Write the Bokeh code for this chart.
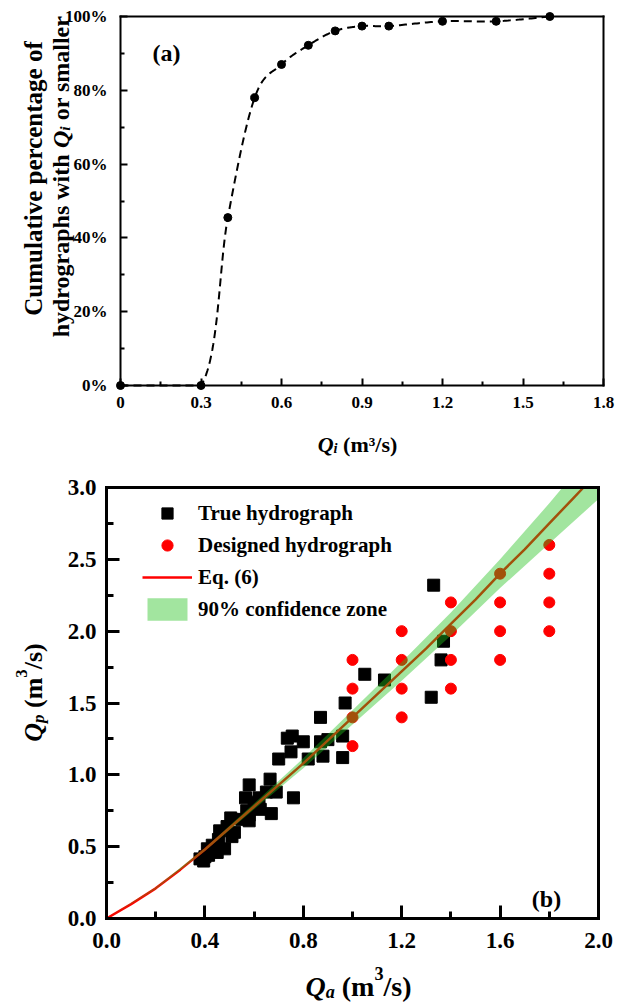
import numpy as np
from bokeh.plotting import figure
from bokeh.layouts import column
from bokeh.models import FixedTicker, Label, Legend, LegendItem, LinearAxis
from bokeh.embed import file_html
from bokeh.resources import INLINE

FONT = "Liberation Serif"

# ---------------- panel (a): cumulative share of hydrographs ----------------
qi_values = [0, 0.3, 0.4, 0.5, 0.6, 0.7, 0.8, 0.9, 1.0, 1.2, 1.4, 1.6]
cumulative_pct = [0, 0, 45.5, 78.0, 87.0, 92.2, 96.1, 97.4, 97.4, 98.7, 98.7, 100]
qi_ticks = [0, 0.3, 0.6, 0.9, 1.2, 1.5, 1.8]
qi_minor = [0.15, 0.45, 0.75, 1.05, 1.35, 1.65]
qi_tick_labels = ["0", "0.3", "0.6", "0.9", "1.2", "1.5", "1.8"]
pct_ticks = [0, 20, 40, 60, 80, 100]
pct_minor = [10, 30, 50, 70, 90]
pct_tick_labels = ["0%", "20%", "40%", "60%", "80%", "100%"]

# ---------------- panel (b): peak discharge vs. average discharge ----------------
true_qa = [1.33, 1.37, 1.36, 1.32, 1.05, 1.13, 0.97, 0.87, 0.96, 0.90,
           0.87, 0.80, 0.755, 0.735, 0.75, 0.88, 0.96, 0.82, 0.70, 0.665,
           0.58, 0.69, 0.65, 0.76, 0.565, 0.60, 0.67, 0.625, 0.57, 0.58,
           0.55, 0.505, 0.49, 0.51, 0.46, 0.455, 0.48, 0.43, 0.41, 0.45,
           0.415, 0.38, 0.395, 0.58, 0.425, 0.40, 0.52, 0.62]
true_qp = [2.32, 1.93, 1.80, 1.54, 1.70, 1.66, 1.50, 1.40, 1.27, 1.245,
           1.23, 1.23, 1.27, 1.255, 1.16, 1.13, 1.12, 1.11, 1.11, 0.97,
           0.93, 0.88, 0.88, 0.84, 0.84, 0.81, 0.73, 0.76, 0.75, 0.68,
           0.69, 0.70, 0.64, 0.57, 0.61, 0.55, 0.485, 0.51, 0.485, 0.46,
           0.44, 0.415, 0.40, 0.72, 0.47, 0.43, 0.60, 0.84]
design_qa = [1.0, 1.0, 1.0, 1.0, 1.2, 1.2, 1.2, 1.2, 1.4, 1.4,
             1.4, 1.4, 1.6, 1.6, 1.6, 1.6, 1.8, 1.8, 1.8, 1.8]
design_qp = [1.2, 1.4, 1.6, 1.8, 1.4, 1.6, 1.8, 2.0, 1.6, 1.8,
             2.0, 2.2, 1.8, 2.0, 2.2, 2.4, 2.0, 2.2, 2.4, 2.6]
eq6_qa = [0, 0.1, 0.2, 0.3, 0.4, 0.5, 0.6, 0.7, 0.8, 0.9, 1.0,
          1.1, 1.2, 1.3, 1.4, 1.5, 1.6, 1.7, 1.8, 1.9, 2.0]
eq6_qp = [0, 0.10, 0.21, 0.34, 0.48, 0.63, 0.78, 0.93, 1.08, 1.24, 1.40,
          1.56, 1.72, 1.88, 2.05, 2.22, 2.40, 2.57, 2.75, 2.93, 3.11]
band_qa = [0, 0.2, 0.4, 0.6, 0.8, 1.0, 1.2, 1.4, 1.6, 1.8, 2.0]
band_lo = [0, 0.205, 0.47, 0.76, 1.045, 1.35, 1.655, 1.97, 2.30, 2.61, 2.92]
band_hi = [0, 0.215, 0.49, 0.80, 1.115, 1.45, 1.785, 2.13, 2.50, 2.89, 3.30]
qa_ticks = [0, 0.4, 0.8, 1.2, 1.6, 2.0]
qa_minor = [0.2, 0.6, 1.0, 1.4, 1.8]
qa_tick_labels = ["0.0", "0.4", "0.8", "1.2", "1.6", "2.0"]
qp_ticks = [0, 0.5, 1.0, 1.5, 2.0, 2.5, 3.0]
qp_minor = [0.25, 0.75, 1.25, 1.75, 2.25, 2.75]
qp_tick_labels = ["0.0", "0.5", "1.0", "1.5", "2.0", "2.5", "3.0"]

# advance widths (1/1000 em) of the serif bold faces, for laying out mixed-style titles
BOLD_W = {' ': 250, '%': 1000, '(': 333, ')': 333, '.': 250, '/': 278, '\u00b3': 300,
          '3': 500, 'C': 722, 'Q': 778, 'a': 500, 'b': 556, 'c': 444, 'd': 556,
          'e': 444, 'f': 333, 'g': 500, 'h': 556, 'i': 278, 'l': 278, 'm': 833,
          'n': 556, 'o': 500, 'p': 556, 'r': 444, 's': 389, 't': 333, 'u': 556,
          'v': 500, 'w': 722, 'y': 500}
BOLD_ITALIC_W = {'Q': 722, 'i': 278, 'p': 500, 'a': 500}


def run_width(text, style):
    table = BOLD_ITALIC_W if style == "bold italic" else BOLD_W
    return sum(table[c] for c in text) / 1000.0


class PixelMap:
    """Maps page pixels of a panel onto its data coordinates (frame fills the canvas)."""

    def __init__(self, xlo, xhi, ylo, yhi, left, right, top, bottom, width, height):
        self.kx = (xhi - xlo) / (right - left)
        self.ky = (yhi - ylo) / (bottom - top)
        self.x0 = xlo - left * self.kx          # data x at canvas left edge
        self.y0 = ylo + bottom * self.ky        # data y at canvas top edge
        self.x_range = (self.x0, self.x0 + width * self.kx)
        self.y_range = (self.y0 - height * self.ky, self.y0)

    def x(self, px):
        return self.x0 + px * self.kx

    def y(self, py):
        return self.y0 - py * self.ky


def rich_text(p, runs, px, py, size, m, vertical=False):
    """Place styled text runs from a baseline start point given in canvas pixels.
    Each run: (text, font style, size factor, baseline shift in em, positive = raised)."""
    adv = 0.0
    for text, style, scale, shift in runs:
        fs = size * scale
        lead = (len(text) - len(text.lstrip(" "))) * BOLD_W[' '] / 1000.0 * fs
        pos = adv + lead
        if vertical:
            lx, ly, angle = px - shift * size, py - pos, np.pi / 2
        else:
            lx, ly, angle = px + pos, py - shift * size, 0
        p.add_layout(Label(x=m.x(lx), y=m.y(ly), text=text.strip(), angle=angle,
                           text_font=FONT, text_font_style=style,
                           text_font_size=f"{fs:.1f}px", text_color="black",
                           text_align="left", text_baseline="alphabetic"))
        adv += run_width(text, style) * fs


def smooth_path(xs, ys, steps=30):
    """Cubic Bezier smoothing through the points (Catmull-Rom control points)."""
    pts = np.column_stack([xs, ys]).astype(float)
    n = len(pts)
    out = [pts[0]]
    t = np.linspace(0, 1, steps)[1:, None]
    for i in range(n - 1):
        p0 = pts[max(i - 1, 0)]
        p1, p2 = pts[i], pts[i + 1]
        p3 = pts[min(i + 2, n - 1)]
        c1 = p1 + (p2 - p0) / 6
        c2 = p2 - (p3 - p1) / 6
        seg = (1 - t) ** 3 * p1 + 3 * (1 - t) ** 2 * t * c1 + 3 * (1 - t) * t ** 2 * c2 + t ** 3 * p2
        out.extend(seg)
    arr = np.array(out)
    return arr[:, 0], arr[:, 1]


def cut_at_top(xs, ys, top):
    """Stop a polyline where it leaves the plot box through its top edge."""
    ox, oy = [xs[0]], [ys[0]]
    for i in range(1, len(xs)):
        if ys[i] > top:
            f = (top - ys[i - 1]) / (ys[i] - ys[i - 1])
            ox.append(xs[i - 1] + f * (xs[i] - xs[i - 1]))
            oy.append(top)
            break
        ox.append(xs[i])
        oy.append(ys[i])
    return ox, oy


def band_under_top(xs, lo, hi, top):
    """Limit the upper band edge to the plot box top edge."""
    bx, blo, bhi = [xs[0]], [lo[0]], [min(hi[0], top)]
    for i in range(1, len(xs)):
        if (hi[i - 1] - top) * (hi[i] - top) < 0:
            f = (top - hi[i - 1]) / (hi[i] - hi[i - 1])
            bx.append(xs[i - 1] + f * (xs[i] - xs[i - 1]))
            blo.append(lo[i - 1] + f * (lo[i] - lo[i - 1]))
            bhi.append(top)
        bx.append(xs[i])
        blo.append(lo[i])
        bhi.append(min(hi[i], top))
    return bx, blo, bhi


def box_axes(p, xlo, xhi, ylo, yhi, xt, xm, xl, yt, ym, yl,
             lw, tick_in, minor_in, font_px, x_standoff, y_standoff):
    common = dict(axis_line_color="black", axis_line_width=lw, axis_line_cap="square",
                  major_tick_line_color="black", minor_tick_line_color="black",
                  major_tick_line_width=lw, minor_tick_line_width=lw,
                  major_tick_in=tick_in, major_tick_out=0,
                  minor_tick_in=minor_in, minor_tick_out=0,
                  major_label_text_font=FONT, major_label_text_font_style="bold",
                  major_label_text_font_size=f"{font_px}px",
                  major_label_text_color="black")
    bottom = LinearAxis(fixed_location=ylo, bounds=(xlo, xhi),
                        ticker=FixedTicker(ticks=xt, minor_ticks=xm),
                        major_label_overrides=dict(zip(xt, xl)),
                        major_label_standoff=x_standoff, **common)
    left = LinearAxis(fixed_location=xlo, bounds=(ylo, yhi),
                      ticker=FixedTicker(ticks=yt, minor_ticks=ym),
                      major_label_overrides=dict(zip(yt, yl)),
                      major_label_standoff=y_standoff, **common)
    top = LinearAxis(fixed_location=yhi, bounds=(xlo, xhi),
                     ticker=FixedTicker(ticks=[]), **common)
    right = LinearAxis(fixed_location=xhi, bounds=(ylo, yhi),
                       ticker=FixedTicker(ticks=[]), **common)
    p.add_layout(bottom, "below")
    p.add_layout(left, "left")
    p.add_layout(top, "above")
    p.add_layout(right, "right")


def make_figure(m, w, h):
    p = figure(frame_width=w, frame_height=h, x_range=m.x_range, y_range=m.y_range,
               x_axis_location=None, y_axis_location=None,
               output_backend="svg", toolbar_location=None,
               min_border=0, background_fill_color="white", border_fill_color="white")
    p.outline_line_color = None
    p.grid.visible = False
    return p


# ================= panel (a) =================
A_W, A_H = 640, 460
ma = PixelMap(0, 1.8, 0, 100, left=120, right=603, top=16, bottom=385, width=A_W, height=A_H)
pa = make_figure(ma, A_W, A_H)

sx, sy = smooth_path(qi_values, cumulative_pct)
pa.line(sx, np.clip(sy, 0, 100), line_color="black", line_width=2, line_dash="8 5")
pa.scatter(qi_values, cumulative_pct, size=8, color="black", level="overlay")
box_axes(pa, 0, 1.8, 0, 100, qi_ticks, qi_minor, qi_tick_labels,
         pct_ticks, pct_minor, pct_tick_labels, 2, 7, 4, 17, 11, 13)

pa.add_layout(Label(x=ma.x(166), y=ma.y(52), text="(a)", text_color="black",
                    text_font=FONT, text_font_style="bold", text_font_size="24px",
                    text_align="center", text_baseline="middle"))

# y title, two rotated lines
pa.add_layout(Label(x=ma.x(33), y=ma.y(178), text="Cumulative percentage of",
                    angle=np.pi / 2, text_color="black",
                    text_font=FONT, text_font_style="bold", text_font_size="25px",
                    text_align="center", text_baseline="alphabetic"))
line2 = [("hydrographs with ", "bold", 1.0, 0.0), ("Q", "bold italic", 1.0, 0.0),
         ("i", "bold italic", 0.65, -0.15), (" or smaller", "bold", 1.0, 0.0)]
w2 = sum(run_width(t, s) * 24 * k for t, s, k, _ in line2)
rich_text(pa, line2, 60, 176 + w2 / 2, 24, ma, vertical=True)

# x title
xa_runs = [("Q", "bold italic", 1.0, 0.0), ("i", "bold italic", 0.65, -0.15),
           (" (m\u00b3/s)", "bold", 1.0, 0.0)]
wxa = sum(run_width(t, s) * 22 * k for t, s, k, _ in xa_runs)
rich_text(pa, xa_runs, 357 - wxa / 2, 444, 22, ma)

# ================= panel (b) =================
B_W, B_H = 640, 547
mb = PixelMap(0, 2.0, 0, 3.0, left=106, right=598, top=27, bottom=458, width=B_W, height=B_H)
pb = make_figure(mb, B_W, B_H)

r_true = pb.scatter(true_qa, true_qp, marker="square", size=12,
                    fill_color="black", line_color="black")
r_design = pb.scatter(design_qa, design_qp, marker="circle", size=11,
                      fill_color="#ff0000", line_color="#ff0000")
lx, ly = cut_at_top(eq6_qa, eq6_qp, 3.0)
r_eq = pb.line(lx, ly, line_color="#ff0000", line_width=2.5)
bx, blo, bhi = band_under_top(band_qa, band_lo, band_hi, 3.0)
r_band = pb.varea(x=bx, y1=blo, y2=bhi, fill_color="#22c01a", fill_alpha=0.42)
box_axes(pb, 0, 2.0, 0, 3.0, qa_ticks, qa_minor, qa_tick_labels,
         qp_ticks, qp_minor, qp_tick_labels, 3, 13, 7, 23, 14, 10)

legend = Legend(items=[LegendItem(label="True hydrograph", renderers=[r_true]),
                       LegendItem(label="Designed hydrograph", renderers=[r_design]),
                       LegendItem(label="Eq. (6)", renderers=[r_eq]),
                       LegendItem(label="90% confidence zone", renderers=[r_band])],
                location=(142, 384), glyph_width=50, glyph_height=28, spacing=4,
                padding=0, margin=0, label_standoff=6,
                border_line_alpha=0, background_fill_alpha=0,
                label_text_font=FONT, label_text_font_style="bold",
                label_text_font_size="21px", label_text_color="black")
pb.add_layout(legend)

pb.add_layout(Label(x=mb.x(546), y=mb.y(438), text="(b)", text_color="black",
                    text_font=FONT, text_font_style="bold", text_font_size="24px",
                    text_align="center", text_baseline="middle"))

xb_runs = [("Q", "bold italic", 1.0, 0.0), ("a", "bold italic", 0.65, -0.18),
           (" (m", "bold", 1.0, 0.0), ("3", "bold", 0.65, 0.45), ("/s)", "bold", 1.0, 0.0)]
wxb = sum(run_width(t, s) * 28 * k for t, s, k, _ in xb_runs)
rich_text(pb, xb_runs, 358 - wxb / 2, 526, 28, mb)

yb_runs = [("Q", "bold italic", 1.0, 0.0), ("p", "bold italic", 0.65, -0.18),
           (" (m", "bold", 1.0, 0.0), ("3", "bold", 0.65, 0.45), ("/s)", "bold", 1.0, 0.0)]
wyb = sum(run_width(t, s) * 26 * k for t, s, k, _ in yb_runs)
rich_text(pb, yb_runs, 33, 232 + wyb / 2, 26, mb, vertical=True)

layout = column(pa, pb, spacing=0)
open("out.html", "w").write(file_html(layout, INLINE))
